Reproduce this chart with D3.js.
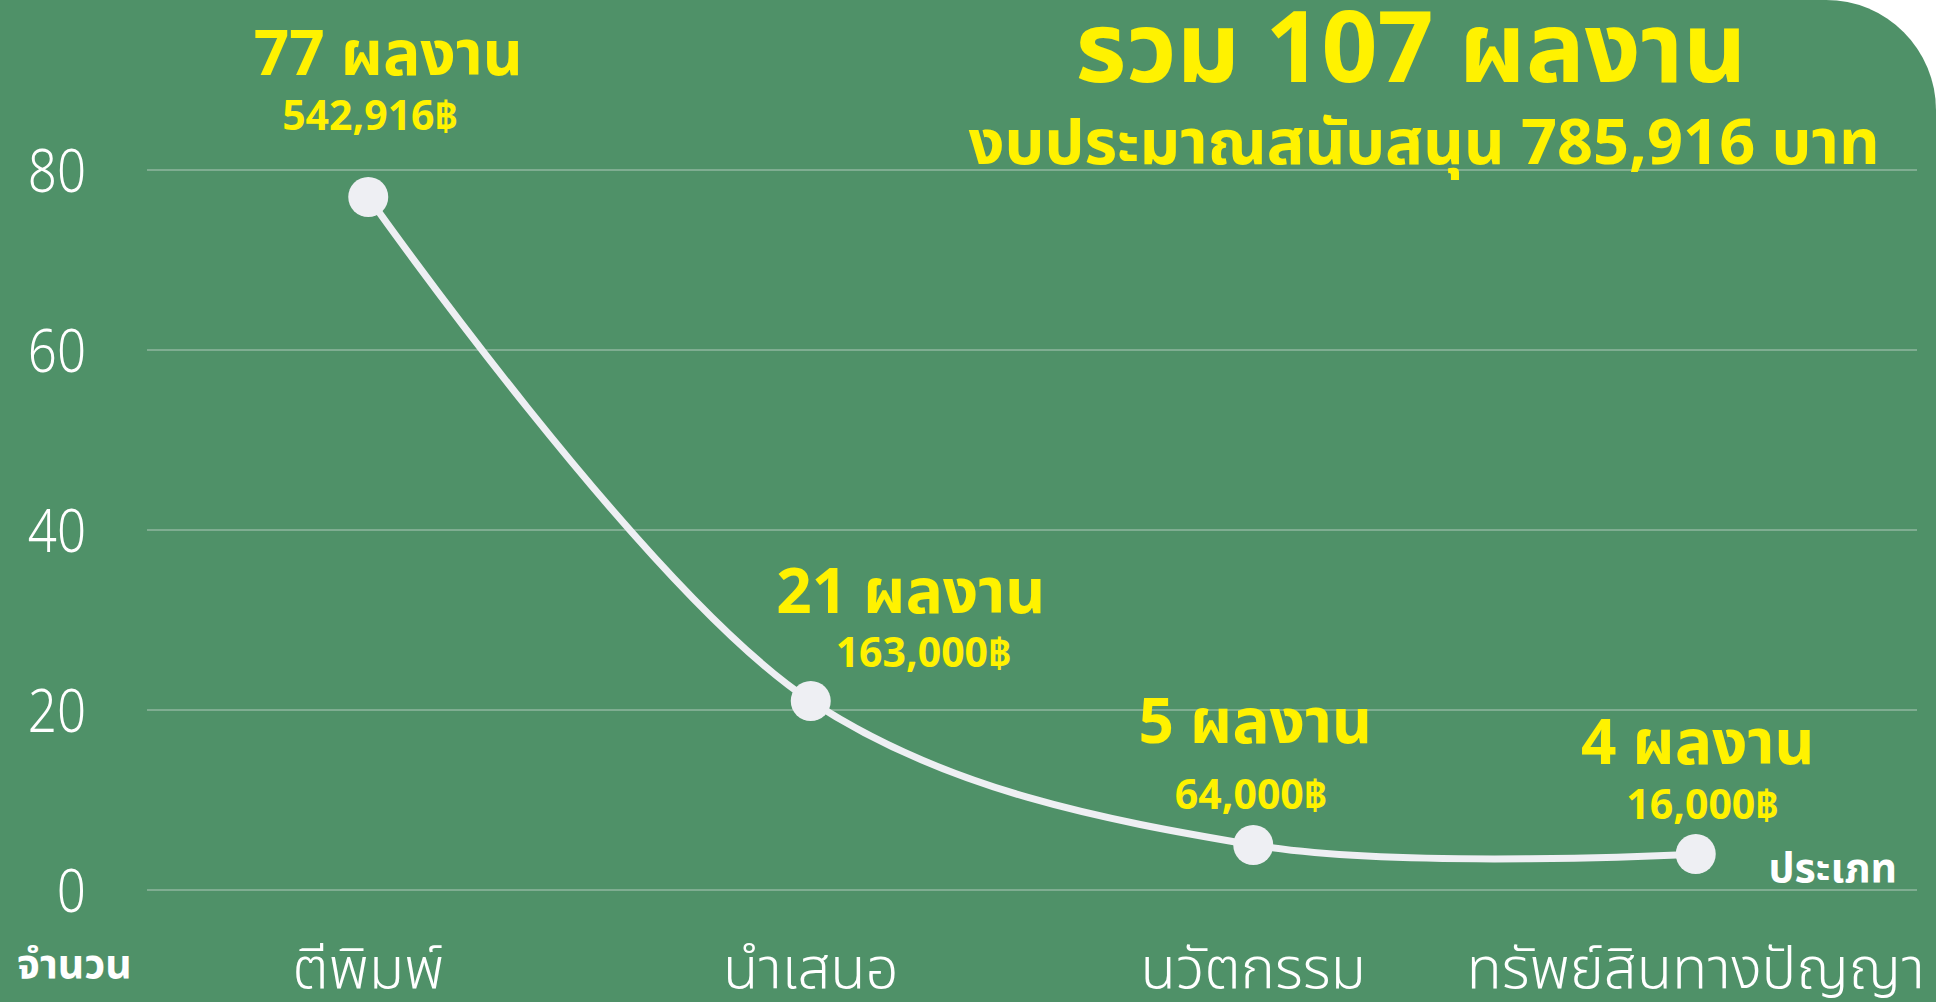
<!DOCTYPE html>
<html>
<head>
<meta charset="utf-8">
<script src="https://cdn.jsdelivr.net/npm/d3@7"></script>
<style>
  body { margin: 0; background: #ffffff; overflow: hidden; }
  text { font-family: "Noto Sans Thai", "Noto Sans", Roboto, sans-serif; }
  .tick-label { fill: #ffffff; font-weight: 300; font-size: 60px; }
  .cat-label { fill: #ffffff; font-weight: 300; font-size: 58px; }
  .yellow { fill: #fff200; font-weight: 700; }
  .axis-name { fill: #ffffff; font-weight: 700; font-size: 41px; }
</style>
</head>
<body>
<script>
// data
const categories = ['ตีพิมพ์', 'นำเสนอ', 'นวัตกรรม', 'ทรัพย์สินทางปัญญา'];
const counts = [77, 21, 5, 4];
const budgets = ['542,916฿', '163,000฿', '64,000฿', '16,000฿'];
const yTicks = [0, 20, 40, 60, 80];
const totalWorks = 107;
const totalBudget = '785,916';

// label nudges (px) for the yellow annotations, per point
const titleOffset = [[20, -122], [100, -88], [2, -102], [2, -90]];
const amountOffset = [[2, -67], [113, -34], [-2, -36], [7, -35]];

const width = 1936;
const height = 1002;
const plot = {left: 147, right: 1917, top: 170, bottom: 890};

const svg = d3.select('body').append('svg')
  .attr('width', width)
  .attr('height', height);

// background with rounded top-right corner
const r = 110;
svg.append('path')
  .attr('d', `M0,0 H${width - r} A${r},${r} 0 0 1 ${width},${r} V${height} H0 Z`)
  .attr('fill', '#4f9168');

const x = d3.scaleBand()
  .domain(categories)
  .range([plot.left, plot.right]);

const y = d3.scaleLinear()
  .domain([0, 80])
  .range([plot.bottom, plot.top]);

const cx = d => x(d) + x.bandwidth() / 2;

// gridlines
svg.append('g')
  .selectAll('line')
  .data(yTicks)
  .enter()
  .append('line')
  .attr('x1', plot.left)
  .attr('x2', plot.right)
  .attr('y1', d => y(d))
  .attr('y2', d => y(d))
  .attr('stroke', '#7fad91')
  .attr('stroke-width', 2);

// y tick labels (condensed look)
svg.append('g')
  .selectAll('text')
  .data(yTicks)
  .enter()
  .append('text')
  .attr('class', 'tick-label')
  .attr('transform', 'scale(0.85,1)')
  .attr('x', 86 / 0.85)
  .attr('y', d => y(d))
  .attr('dy', '0.36em')
  .attr('text-anchor', 'end')
  .text(d => d);

// category labels
svg.append('g')
  .selectAll('text')
  .data(categories)
  .enter()
  .append('text')
  .attr('class', 'cat-label')
  .attr('x', d => cx(d))
  .attr('y', 988)
  .attr('text-anchor', 'middle')
  .text(d => d);

svg.append('text')
  .attr('class', 'axis-name')
  .attr('x', 17)
  .attr('y', 978)
  .text('จำนวน');

svg.append('text')
  .attr('class', 'axis-name')
  .attr('x', 1897)
  .attr('y', 882)
  .attr('text-anchor', 'end')
  .text('ประเภท');

// smoothed line
const points = categories.map((c, i) => ({cat: c, value: counts[i]}));

const line = d3.line()
  .x(d => cx(d.cat))
  .y(d => y(d.value))
  .curve(d3.curveCatmullRom);

svg.append('path')
  .datum(points)
  .attr('d', line)
  .attr('fill', 'none')
  .attr('stroke', '#eeeff3')
  .attr('stroke-width', 7);

svg.append('g')
  .selectAll('circle')
  .data(points)
  .enter()
  .append('circle')
  .attr('cx', d => cx(d.cat))
  .attr('cy', d => y(d.value))
  .attr('r', 20)
  .attr('fill', '#eeeff3');

// yellow annotations
const notes = svg.append('g');

notes.selectAll('text.count')
  .data(points)
  .enter()
  .append('text')
  .attr('class', 'count yellow')
  .attr('x', (d, i) => cx(d.cat) + titleOffset[i][0])
  .attr('y', (d, i) => y(d.value) + titleOffset[i][1])
  .attr('text-anchor', 'middle')
  .style('font-size', '62px')
  .text(d => d.value + ' ผลงาน');

notes.selectAll('text.amount')
  .data(points)
  .enter()
  .append('text')
  .attr('class', 'amount yellow')
  .attr('x', (d, i) => cx(d.cat) + amountOffset[i][0])
  .attr('y', (d, i) => y(d.value) + amountOffset[i][1])
  .attr('text-anchor', 'middle')
  .style('font-size', '41px')
  .text((d, i) => budgets[i]);

// headline
svg.append('text')
  .attr('class', 'yellow')
  .attr('x', 1411)
  .attr('y', 82)
  .attr('text-anchor', 'middle')
  .style('font-size', '98px')
  .text('รวม ' + totalWorks + ' ผลงาน');

svg.append('text')
  .attr('class', 'yellow')
  .attr('x', 1424)
  .attr('y', 164)
  .attr('text-anchor', 'middle')
  .style('font-size', '63px')
  .text('งบประมาณสนับสนุน ' + totalBudget + ' บาท');
</script>
</body>
</html>
